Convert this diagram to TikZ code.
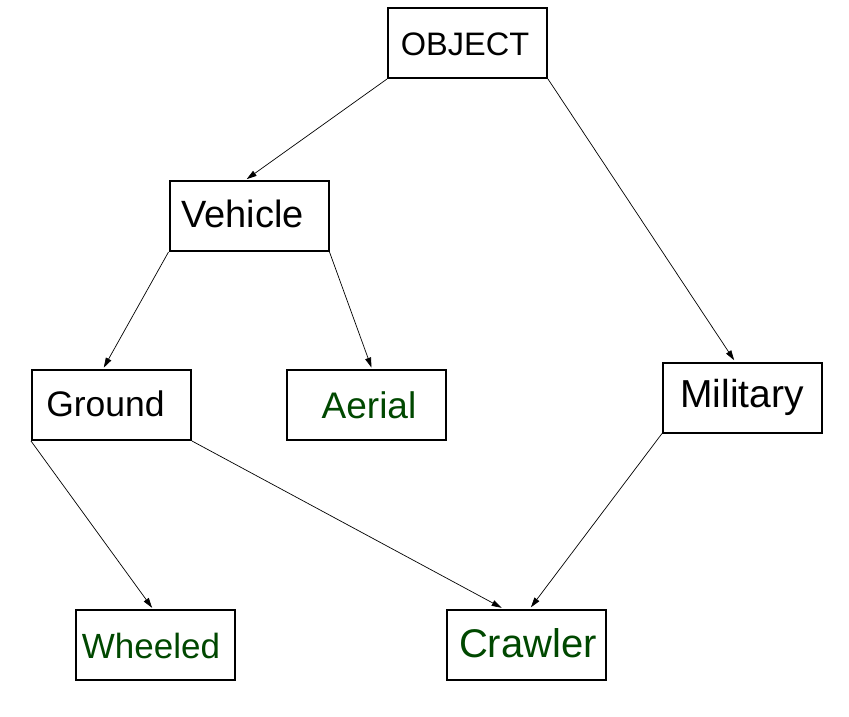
\documentclass[tikz,border=0pt]{standalone}
\usepackage{fontspec}
\setmainfont{Liberation Sans}
\usetikzlibrary{arrows.meta}
\definecolor{dgreen}{RGB}{0,72,0}
\begin{document}
\begin{tikzpicture}[x=1pt,y=-1pt,
  box/.style={draw=black,line width=2pt,minimum width=159pt,minimum height=70pt,inner sep=0pt},
  lbl/.style={anchor=base,inner sep=0pt},
  gl/.style={lbl,text=dgreen},
  arr/.style={line width=0.7pt,-{Triangle[length=10pt,width=6pt]},shorten >=1.5pt}]
\useasboundingbox (0,0) rectangle (849,716);
\node[box] (obj) at (467.5,43) {};
\node[box] (veh) at (249,216) {};
\node[box] (gro) at (111.5,405) {};
\node[box] (aer) at (366.5,405) {};
\node[box] (mil) at (742.5,397.5) {};
\node[box] (whe) at (155.5,645) {};
\node[box] (cra) at (526.5,644.5) {};
\node[lbl,font=\fontsize{32.5}{36}\selectfont] (tobj) at (465,55) {OBJECT};
\node[lbl,font=\fontsize{38}{43}\selectfont] (tveh) at (242.5,227) {Vehicle};
\node[lbl,font=\fontsize{35.5}{40}\selectfont] (tgro) at (105.5,416) {Ground};
\node[gl,font=\fontsize{37}{42}\selectfont] (taer) at (369,418) {Aerial};
\node[lbl,font=\fontsize{39}{44}\selectfont] (tmil) at (742,407) {Military};
\node[gl,font=\fontsize{35}{40}\selectfont] (twhe) at (151,658) {Wheeled};
\node[gl,font=\fontsize{40}{45}\selectfont] (tcra) at (528,657) {Crawler};
\draw[arr] (obj.south west) -- ([xshift=77pt]veh.north west);
\draw[arr] (obj.south east) -- ([xshift=73pt]mil.north west);
\draw[arr] (veh.south west) -- ([xshift=72pt]gro.north west);
\draw[arr] (veh.south east) -- ([xshift=86pt]aer.north west);
\draw[arr] (gro.south west) -- ([xshift=78pt]whe.north west);
\draw[arr] (gro.south east) -- ([xshift=57pt]cra.north west);
\draw[arr] (mil.south west) -- ([xshift=84pt]cra.north west);
\end{tikzpicture}
\end{document}
